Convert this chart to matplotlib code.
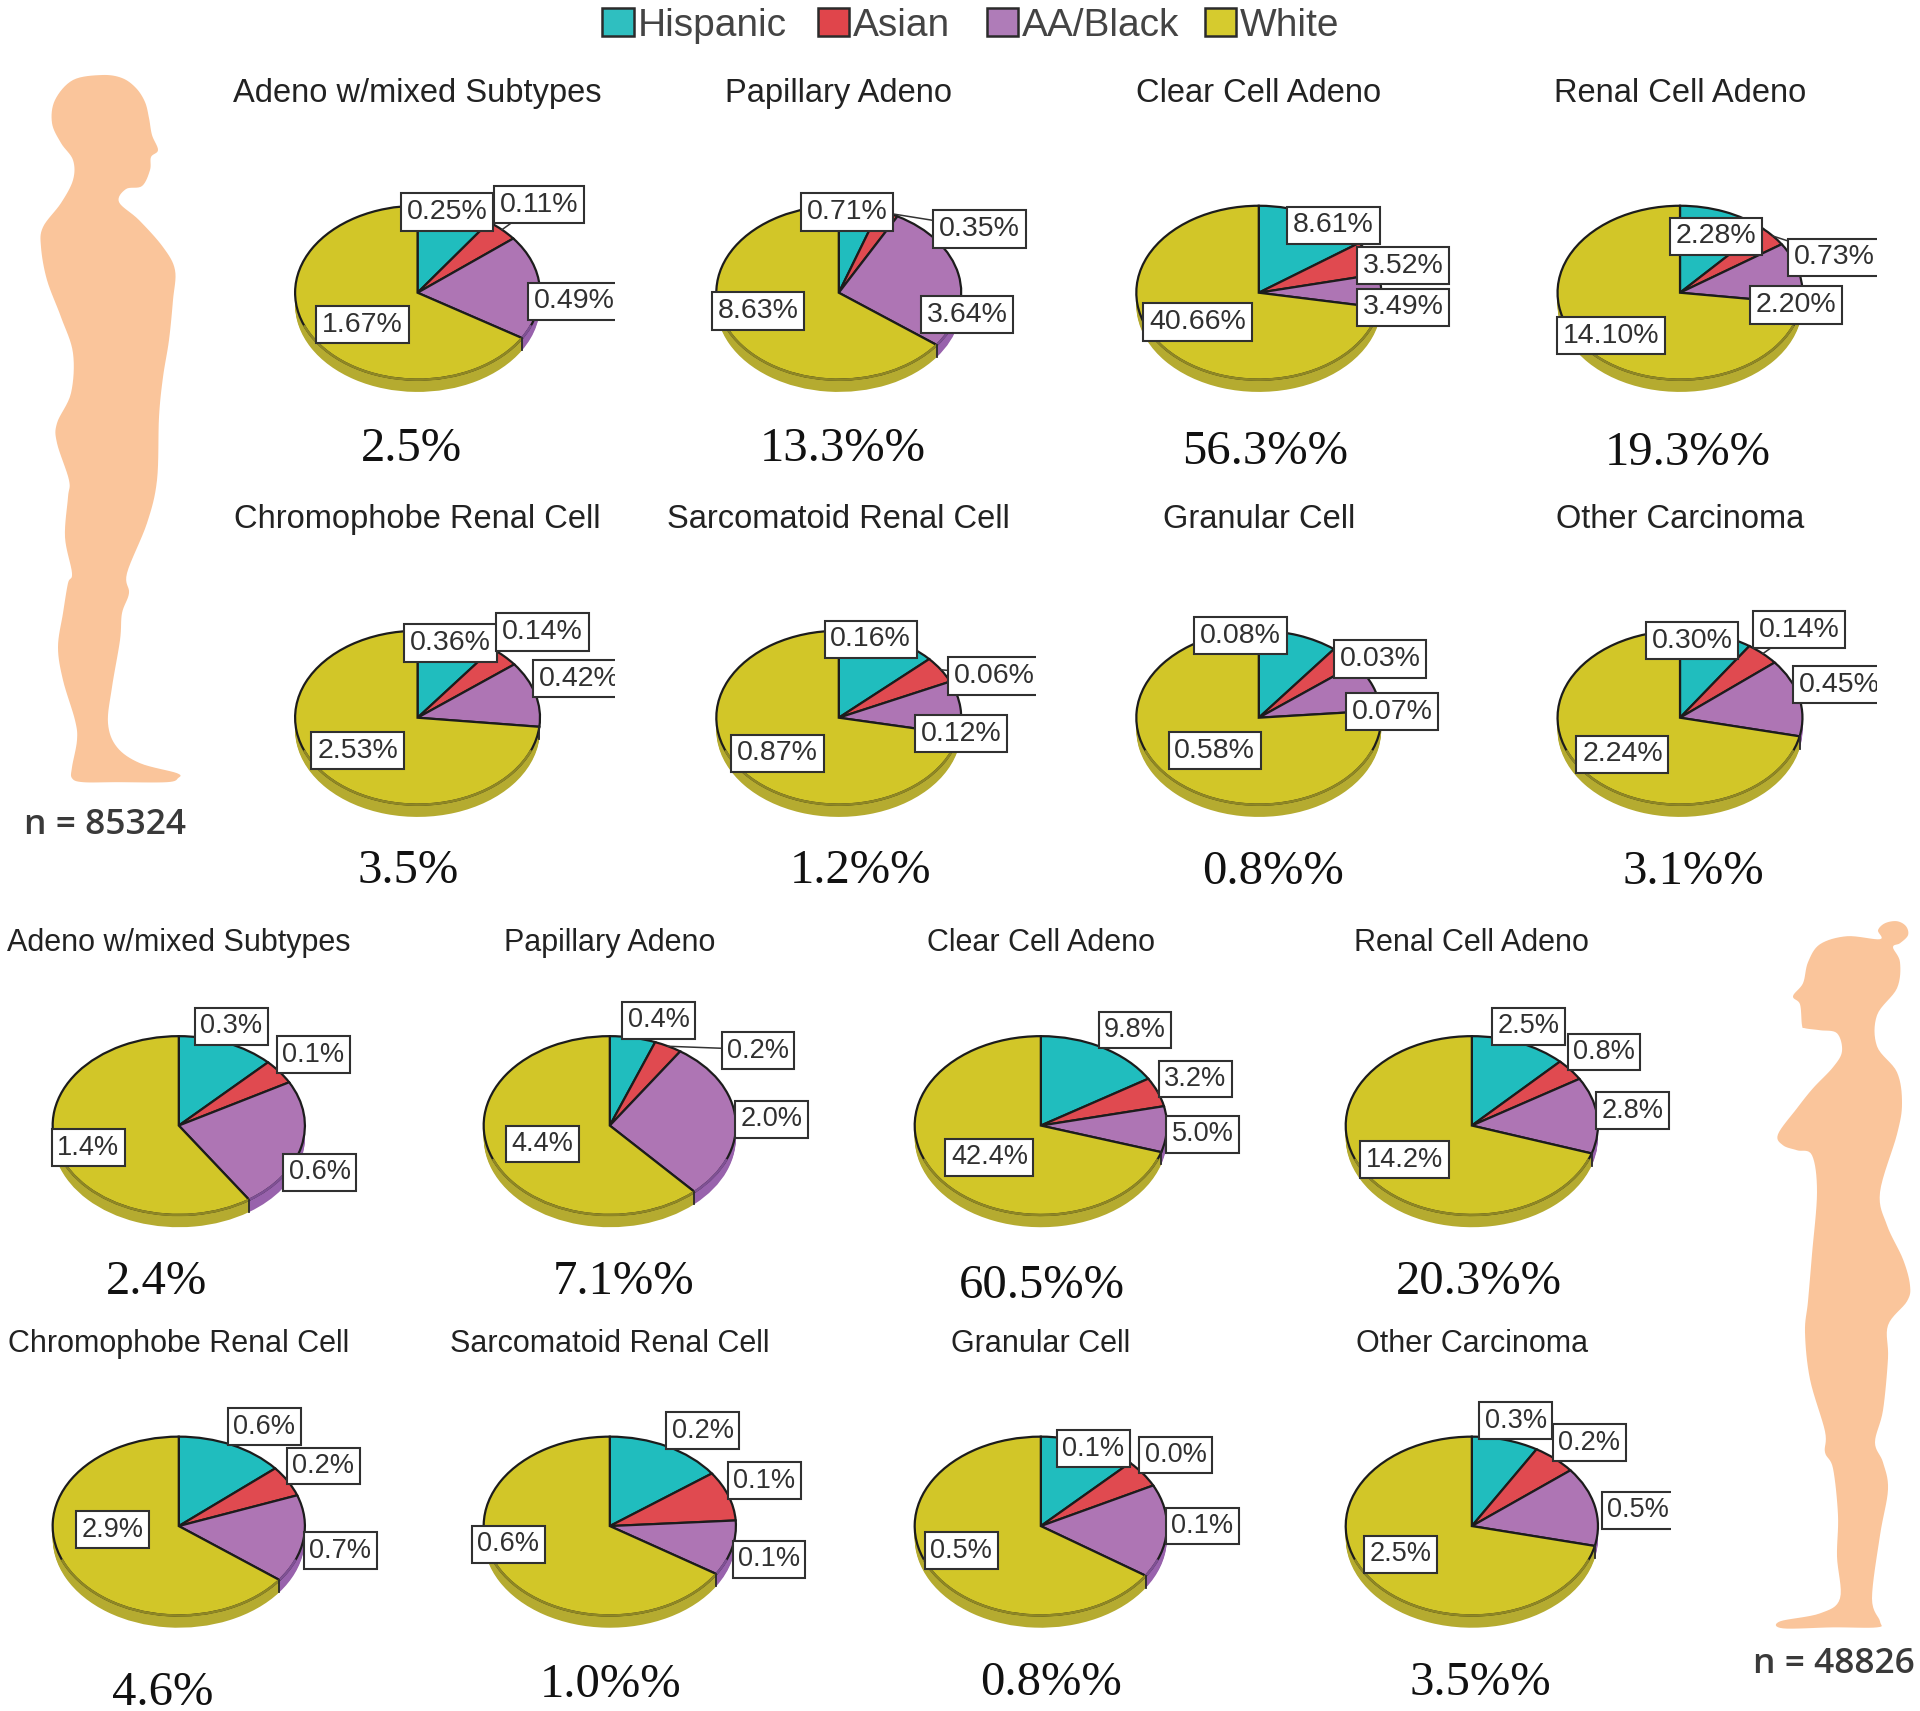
import matplotlib
matplotlib.use("Agg")
import matplotlib.pyplot as plt
import numpy as np
from matplotlib.patches import Patch, Polygon
from matplotlib.transforms import Bbox

# ---------- data ----------
races = ["Hispanic", "Asian", "AA/Black", "White"]
subtypes = ["Adeno w/mixed Subtypes", "Papillary Adeno", "Clear Cell Adeno", "Renal Cell Adeno",
            "Chromophobe Renal Cell", "Sarcomatoid Renal Cell", "Granular Cell", "Other Carcinoma"]

male_hispanic = [0.25, 0.71, 8.61, 2.28, 0.36, 0.16, 0.08, 0.30]
male_asian = [0.11, 0.35, 3.52, 0.73, 0.14, 0.06, 0.03, 0.14]
male_black = [0.49, 3.64, 3.49, 2.20, 0.42, 0.12, 0.07, 0.45]
male_white = [1.67, 8.63, 40.66, 14.10, 2.53, 0.87, 0.58, 2.24]
male_totals = ["2.5%", "13.3%%", "56.3%%", "19.3%%", "3.5%", "1.2%%", "0.8%%", "3.1%%"]

female_hispanic = [0.3, 0.4, 9.8, 2.5, 0.6, 0.2, 0.1, 0.3]
female_asian = [0.1, 0.2, 3.2, 0.8, 0.2, 0.1, 0.0, 0.2]
female_black = [0.6, 2.0, 5.0, 2.8, 0.7, 0.1, 0.1, 0.5]
female_white = [1.4, 4.4, 42.4, 14.2, 2.9, 0.6, 0.5, 2.5]
female_totals = ["2.4%", "7.1%%", "60.5%%", "20.3%%", "4.6%", "1.0%%", "0.8%%", "3.5%%"]
# slice sizes read from the drawn wedges where the printed labels are too rounded
female_slice_estimates = {0: [0.30, 0.107, 0.567, 1.426], 1: [0.41, 0.25, 2.02, 4.32],
                          4: [0.61, 0.245, 0.70, 2.85], 5: [0.15, 0.09, 0.10, 0.66],
                          6: [0.10, 0.04, 0.135, 0.525]}

sample_sizes = ["n = 85324", "n = 48826"]

# ---------- layout (coordinates in a 1568 x 1397 frame) ----------
S = 1920 / 1568
colors = ["#20BDBE", "#E04A50", "#AE75B4", "#D2C628"]
side_colors = ["#1C9E9F", "#BE3F45", "#9862AC", "#B5AB30"]
rim_colors = ["#188A8B", "#A63238", "#7F5094", "#8F8724"]
legend_colors = ["#2FBFC0", "#E0454B", "#AF7CB8", "#D6CB2E"]
legend_swatch_x = [492, 668, 806, 984]
skin = "#FAC59B"

male_cx = [341, 685, 1028, 1372] * 2
male_cy = [239] * 4 + [586] * 4
female_cx = [146, 498, 850, 1202] * 2
female_cy = [919] * 4 + [1246] * 4

male_title_y = [74] * 4 + [422] * 4
female_title_y = [768] * 4 + [1095] * 4
male_total_xy = [(336, 364), (688, 364), (1033, 366), (1378, 367),
                 (333, 708), (703, 708), (1040, 709), (1383, 709)]
female_total_xy = [(128, 1044), (509, 1044), (851, 1047), (1208, 1044),
                   (133, 1379), (499, 1373), (858, 1371), (1209, 1371)]

male_label_xy = [
    [(365, 172), (440, 166), (469, 245), (296, 264)],
    [(692, 172), (800, 186), (790, 256), (619, 253)],
    [(1089, 183), (1146, 216), (1146, 250), (978, 262)],
    [(1401, 192), (1498, 209), (1467, 248), (1316, 273)],
    [(368, 524), (443, 515), (473, 553), (292, 612)],
    [(711, 521), (812, 551), (785, 598), (635, 614)],
    [(1013, 518), (1127, 537), (1137, 580), (992, 612)],
    [(1382, 522), (1469, 513), (1502, 558), (1325, 615)],
]
female_label_xy = [
    [(189, 837), (256, 860), (261, 956), (72, 936)],
    [(538, 832), (619, 857), (630, 913), (443, 933)],
    [(927, 840), (976, 880), (982, 925), (808, 944)],
    [(1248, 837), (1310, 858), (1333, 906), (1147, 946)],
    [(216, 1164), (264, 1196), (278, 1265), (92, 1248)],
    [(574, 1167), (624, 1208), (628, 1272), (415, 1260)],
    [(893, 1182), (960, 1187), (982, 1245), (785, 1265)],
    [(1238, 1159), (1298, 1177), (1338, 1232), (1144, 1268)],
]
# (panel, slice): right-hand crop of a clipped label
male_clip = {(0, 2): 502, (3, 1): 1533, (4, 2): 502, (5, 1): 846, (7, 2): 1533}
female_clip = {(7, 2): 1365}
male_leaders = [(0, 1), (1, 1), (1, 0), (3, 1), (5, 1), (7, 1)]
female_leaders = [(1, 1), (2, 1), (3, 1), (4, 1), (7, 1)]

# silhouettes, traced in full-size pixels
man_xy = [(102, 75), (122, 78), (136, 88), (145, 102), (149, 118), (152, 135), (158, 150), (151, 157), (150, 170),
          (142, 186), (126, 189), (119, 202), (139, 220), (163, 247), (175, 270), (173, 300), (169, 340),
          (163, 377), (159, 417), (157, 480), (147, 523), (127, 573), (129, 593), (122, 613), (120, 640),
          (112, 687), (108, 723), (117, 747), (140, 763), (177, 773), (178, 778), (167, 782), (117, 782),
          (83, 782), (72, 778), (72, 767), (77, 740), (75, 720), (63, 680), (58, 647), (63, 613), (68, 583),
          (72, 573), (65, 537), (68, 497), (69, 480), (57, 443), (57, 423), (71, 393), (73, 353), (61, 317),
          (47, 280), (41, 247), (43, 227), (61, 203), (73, 180), (73, 160), (61, 143), (52, 123), (55, 100),
          (73, 80)]
woman_xy = [(1880, 939), (1878, 930), (1885, 923), (1897, 921), (1906, 926), (1908, 935), (1900, 943), (1893, 947),
            (1900, 962), (1897, 988), (1877, 1015), (1877, 1046), (1897, 1072), (1902, 1103), (1897, 1134),
            (1880, 1192), (1887, 1225), (1903, 1259), (1910, 1285), (1907, 1301), (1888, 1325), (1888, 1358),
            (1883, 1410), (1875, 1442), (1883, 1462), (1888, 1489), (1880, 1535), (1872, 1598), (1880, 1621),
            (1877, 1627), (1833, 1627), (1783, 1628), (1780, 1621), (1820, 1613), (1840, 1598), (1837, 1556),
            (1838, 1515), (1833, 1468), (1825, 1452), (1825, 1431), (1810, 1379), (1805, 1332), (1808, 1301),
            (1812, 1254), (1817, 1192), (1812, 1155), (1797, 1150), (1783, 1145), (1778, 1134), (1797, 1108),
            (1813, 1088), (1833, 1067), (1842, 1051), (1837, 1033), (1820, 1030), (1805, 1028), (1802, 1025),
            (1800, 1004), (1793, 996), (1803, 983), (1808, 962), (1820, 944), (1847, 936)]


def smooth(pts, sub=8):
    """Closed Catmull-Rom curve through the traced points."""
    p = np.asarray(pts, float)
    t = np.linspace(0, 1, sub, endpoint=False)[:, None]
    out = []
    for i in range(len(p)):
        p0, p1, p2, p3 = p[i - 1], p[i], p[(i + 1) % len(p)], p[(i + 2) % len(p)]
        out.append(0.5 * (2 * p1 + (p2 - p0) * t + (2 * p0 - 5 * p1 + 4 * p2 - p3) * t ** 2
                          + (3 * p1 - p0 - 3 * p2 + p3) * t ** 3))
    return np.vstack(out)


fig = plt.figure(figsize=(19.2, 17.11), dpi=100, facecolor="white")
sans = "Liberation Sans"
serif = "Liberation Serif"

ov = fig.add_axes([0, 0, 1, 1], zorder=10)
ov.set_xlim(0, 1568)
ov.set_ylim(1397, 0)
ov.axis("off")
ov.patch.set_alpha(0)

for outline in (man_xy, woman_xy):
    ov.add_patch(Polygon(smooth(outline) / S, closed=True, fc=skin, ec="none", zorder=1))


def draw_pie(cx, cy, rx, ry, depth, slices):
    w, h = rx * 2.1, (ry + depth) * 2.1
    ax = fig.add_axes([(cx - w / 2) / 1568, 1 - (cy + h / 2) / 1397, w / 1568, h / 1397], zorder=2)
    d = depth / ry
    for off in np.linspace(d, 0.02, 10):
        ax.pie(slices, colors=side_colors, startangle=90, counterclock=False, center=(0, -off),
               wedgeprops=dict(linewidth=0, edgecolor="none"))
    ax.pie(slices, colors=colors, startangle=90, counterclock=False, center=(0, 0),
           wedgeprops=dict(linewidth=1.6, edgecolor="#1c1c1c"))
    # the front rim of the face is much fainter than the rest of the outline
    cum = np.cumsum(slices) / np.sum(slices) * 360
    start = np.concatenate([[0], cum[:-1]])
    for j in range(4):
        a0, a1 = max(start[j], 112), min(cum[j], 248)
        if a1 > a0:
            t = np.radians(np.linspace(a0, a1, 80))
            ax.plot(np.sin(t), np.cos(t), color=rim_colors[j], lw=1.8, solid_capstyle="butt", zorder=5)
    for a in cum[:-1]:
        if 95 < a < 265:
            t = np.radians(a)
            ax.plot([np.sin(t)] * 2, [np.cos(t), np.cos(t) - d], color="#2a2a2a", lw=1.3, zorder=6)
    ax.set_aspect("auto")
    ax.set_xlim(-1.05, 1.05)
    ax.set_ylim(-1.05 * (ry + depth) / ry, 1.05 * (ry + depth) / ry)
    ax.axis("off")
    return ax


def add_label(txt, xy, size, clip=None):
    t = ov.text(xy[0], xy[1] + 1, txt, fontsize=size, family=sans, color="#303030", ha="center", va="center",
                zorder=5, bbox=dict(boxstyle="square,pad=0.2", fc="white", ec="#303030", lw=1.5))
    if clip is not None:
        t.set_clip_on(True)
        t.set_clip_box(Bbox.from_extents(0, 0, clip * S, 1711))


def panel_group(cxs, cys, rx, ry, depth, H, A, B, W, totals, title_ys, total_xy, label_xy, clips, leaders,
                fmt, title_fs, label_fs, overrides=None):
    for i in range(8):
        vals = [H[i], A[i], B[i], W[i]]
        slices = (overrides or {}).get(i, vals)
        draw_pie(cxs[i], cys[i], rx, ry, depth, slices)
        ov.text(cxs[i], title_ys[i] + 2, subtypes[i], fontsize=title_fs, family=sans, color="#222222",
                ha="center", va="center", zorder=6)
        ov.text(total_xy[i][0], total_xy[i][1] + 3, totals[i], fontsize=35, family=serif, color="#111111",
                ha="center", va="center", zorder=6)
        cum = np.cumsum(slices) / np.sum(slices) * 2 * np.pi
        start = np.concatenate([[0], cum[:-1]])
        for j in range(4):
            if (i, j) in leaders:
                th = (start[j] + cum[j]) / 2
                ov.plot([cxs[i] + rx * np.sin(th), label_xy[i][j][0]],
                        [cys[i] - ry * np.cos(th), label_xy[i][j][1]],
                        color="#333333", lw=1.1, zorder=3)
            add_label(fmt.format(vals[j]), label_xy[i][j], label_fs, clips.get((i, j)))


panel_group(male_cx, male_cy, 100, 71, 10, male_hispanic, male_asian, male_black, male_white, male_totals,
            male_title_y, male_total_xy, male_label_xy, male_clip, male_leaders, "{:.2f}%", 23.5, 20.5)
panel_group(female_cx, female_cy, 103, 73, 10, female_hispanic, female_asian, female_black, female_white,
            female_totals, female_title_y, female_total_xy, female_label_xy, female_clip, female_leaders,
            "{:.1f}%", 22, 19.5, overrides=female_slice_estimates)

ov.text(86, 674, sample_sizes[0], fontsize=25.5, family="Open Sans", fontweight="semibold", color="#3a3a3a",
        ha="center", va="center", zorder=6)
ov.text(1498, 1359, sample_sizes[1], fontsize=25.5, family="Open Sans", fontweight="semibold", color="#3a3a3a",
        ha="center", va="center", zorder=6)

# one legend per entry: the original's entries are unevenly spaced
for race, col, sx in zip(races, legend_colors, legend_swatch_x):
    leg = fig.legend(handles=[Patch(fc=col, ec="#2b2b2b", lw=1.8, label=race)], loc="center left",
                     bbox_to_anchor=(sx / 1568, 1 - 21 / 1397), frameon=False, handlelength=0.8,
                     handleheight=0.7, handletextpad=0.1, borderpad=0, borderaxespad=0,
                     labelcolor="#444444", prop=dict(family=sans, size=28))
    leg.set_zorder(11)

fig.savefig("out.png", dpi=100, facecolor="white")
